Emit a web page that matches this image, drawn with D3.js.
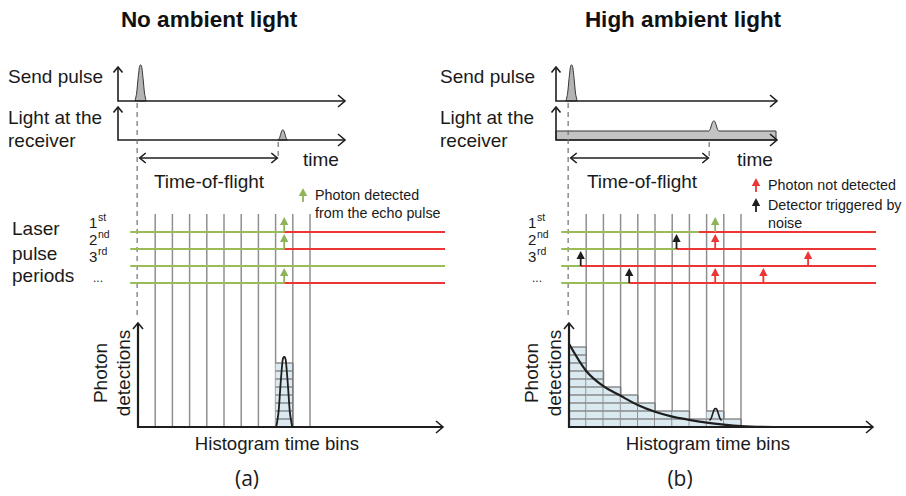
<!DOCTYPE html>
<html><head><meta charset="utf-8">
<script src="https://cdn.jsdelivr.net/npm/d3@7"></script>
<style>
body{margin:0;background:#fff}
svg{display:block}
text{font-family:"Liberation Sans",Arial,sans-serif;fill:#1a1a1a}
</style>
</head><body>
<svg id="chart" width="906" height="496"></svg>
<script>
// ---------------- data ----------------
const panelTitles = ["No ambient light", "High ambient light"];
const panelTags = ["(a)", "(b)"];
const periodLabels = [["1", "st"], ["2", "nd"], ["3", "rd"], ["...", ""]];
const histNoAmbient = [0, 0, 0, 0, 0, 0, 0, 0, 8, 0];
const histHighAmbient = [10, 7, 5, 4, 3, 2, 2, 1, 2, 1];
// time (in bins) at which each laser period stops listening (green -> red)
const greenUntilNoAmbient = [8.5, 8.5, 17.85, 8.5];
const greenUntilHighAmbient = [7.55, 6.25, 0.68, 3.5];
const arrowsNoAmbient = [
  { period: 0, t: 8.5, kind: "detected" },
  { period: 1, t: 8.5, kind: "detected" },
  { period: 3, t: 8.5, kind: "detected" }
];
const arrowsHighAmbient = [
  { period: 0, t: 8.5, kind: "detected" },
  { period: 1, t: 6.25, kind: "noise" },
  { period: 1, t: 8.5, kind: "missed" },
  { period: 2, t: 0.68, kind: "noise" },
  { period: 2, t: 13.9, kind: "missed" },
  { period: 3, t: 3.5, kind: "noise" },
  { period: 3, t: 8.5, kind: "missed" },
  { period: 3, t: 11.3, kind: "missed" }
];
// pile-up decay curve: [bin position, detections]
const decayCurve = [[0, 10.4], [1, 7.0], [2, 5.1], [3, 3.9], [4, 2.75], [5, 1.9], [6, 1.3], [7, 0.9], [8, 0.55], [9, 0.3], [10, 0.12], [11.9, 0]];
// normalised pulse profile: [offset, amplitude]
const pulseProfile = [[-1, 0], [-0.7, 0.22], [-0.45, 0.62], [-0.2, 0.95], [0, 1], [0.2, 0.95], [0.45, 0.62], [0.7, 0.22], [1, 0]];
const sendPulseTime = 0.15;
const echoTime = 8.42;
const echoHistPeak = 8.75;     // left histogram echo peak (detections)
const echoBumpBase = 0.8, echoBumpPeak = 2.3; // right histogram echo bump
const tofStart = 0.1, tofEnd = 8.1;
const legendNoAmbient = [{ kind: "detected", lines: ["Photon detected", "from the echo pulse"] }];
const legendHighAmbient = [
  { kind: "missed", lines: ["Photon not detected"] },
  { kind: "noise", lines: ["Detector triggered by", "noise"] }
];

// ---------------- styles ----------------
const GREEN = "#9bbb59", RED = "#ee3535", ARROW_GREEN = "#8fb35b", DARK = "#1e1e1e";
const kindColor = { detected: ARROW_GREEN, missed: RED, noise: DARK };

const svg = d3.select("#chart");

function chevron(g, x, y, dir, s = 5) {
  let pts;
  if (dir === "up") pts = [[x - s, y + s + 1], [x, y], [x + s, y + s + 1]];
  else if (dir === "right") pts = [[x - s - 1, y - s], [x, y], [x - s - 1, y + s]];
  else pts = [[x + s + 1, y - s], [x, y], [x + s + 1, y + s]];
  g.append("path").attr("d", d3.line()(pts)).attr("fill", "none")
    .attr("stroke", DARK).attr("stroke-width", 1.6).attr("stroke-linejoin", "miter");
}

function upArrow(g, x, yBase, len, color) {
  const tip = yBase - len;
  g.append("line").attr("x1", x).attr("x2", x).attr("y1", yBase).attr("y2", tip + 6)
    .attr("stroke", color).attr("stroke-width", 1.8);
  g.append("path").attr("d", `M${x},${tip}L${x + 4.2},${tip + 8}L${x - 4.2},${tip + 8}Z`).attr("fill", color);
}

function drawPanel(cfg) {
  const g = svg.append("g");
  const xs = d3.scaleLinear().domain([0, 10]).range([cfg.x0, cfg.x0 + 172]);
  const yH = d3.scaleLinear().domain([0, 10]).range([427, 347]);
  const yP = d3.scaleLinear().domain([0, 3]).range([232, 283]);

  // title
  g.append("text").attr("x", cfg.titleX).attr("y", 27).attr("text-anchor", "middle")
    .attr("font-size", 22.5).attr("font-weight", "bold").style("fill", "#111").text(cfg.title);

  // -------- timelines --------
  g.append("text").attr("x", cfg.labelX).attr("y", 83).attr("font-size", 19).text("Send pulse");
  g.append("text").attr("x", cfg.labelX).attr("y", 124).attr("font-size", 19).text("Light at the");
  g.append("text").attr("x", cfg.labelX).attr("y", 146.5).attr("font-size", 19).text("receiver");

  // send pulse
  const pulseArea = d3.area().curve(d3.curveCardinal.tension(0.2));
  const sp = pulseProfile.map(p => [xs(sendPulseTime) + p[0] * 5.6, 101 - p[1] * 36]);
  g.append("path").attr("d", pulseArea.x(d => d[0]).y0(101).y1(d => d[1])(sp))
    .attr("fill", "#b4b4b4").attr("stroke", "#333").attr("stroke-width", 1);

  // receiver
  if (cfg.ambient) {
    const pts = [[cfg.axisX, 131], [xs(echoTime) - 5, 131]]
      .concat(pulseProfile.slice(1, -1).map(p => [xs(echoTime) + p[0] * 5, 131 - p[1] * 10]))
      .concat([[xs(echoTime) + 5, 131], [cfg.axisEnd - 1, 131]]);
    g.append("path").attr("d", d3.area().curve(d3.curveMonotoneX).x(d => d[0]).y0(140).y1(d => d[1])(pts))
      .attr("fill", "#c3c3c3").attr("stroke", "#333").attr("stroke-width", 1);
  } else {
    const ep = pulseProfile.map(p => [xs(echoTime) + p[0] * 4.6, 140 - p[1] * 10]);
    g.append("path").attr("d", pulseArea.x(d => d[0]).y0(140).y1(d => d[1])(ep))
      .attr("fill", "#b4b4b4").attr("stroke", "#333").attr("stroke-width", 1);
  }

  // axes
  [[101, 67], [140, 107]].forEach(([base, top]) => {
    g.append("path").attr("d", `M${cfg.axisX},${top}V${base}H${cfg.axisEnd}`)
      .attr("fill", "none").attr("stroke", DARK).attr("stroke-width", 1.6);
    chevron(g, cfg.axisX, top, "up", 4.5);
    chevron(g, cfg.axisEnd, base, "right", 6);
  });
  g.append("text").attr("x", cfg.timeX).attr("y", 166).attr("font-size", 19).text("time");

  // dashed lines
  g.append("line").attr("x1", xs(-0.05)).attr("x2", xs(-0.05)).attr("y1", 103).attr("y2", 319)
    .attr("stroke", "#6f6f6f").attr("stroke-width", 1.2).attr("stroke-dasharray", "5,4");
  g.append("line").attr("x1", xs(8.15)).attr("x2", xs(8.15)).attr("y1", 142).attr("y2", 160)
    .attr("stroke", "#6f6f6f").attr("stroke-width", 1.2).attr("stroke-dasharray", "5,4");

  // time of flight
  g.append("line").attr("x1", xs(tofStart)).attr("x2", xs(tofEnd)).attr("y1", 158).attr("y2", 158)
    .attr("stroke", DARK).attr("stroke-width", 1.6);
  chevron(g, xs(tofStart), 158, "left", 5);
  chevron(g, xs(tofEnd), 158, "right", 5);
  g.append("text").attr("x", cfg.tofTextX).attr("y", 188).attr("text-anchor", "middle")
    .attr("font-size", 19).text("Time-of-flight");

  // legend
  let ly = cfg.legendY;
  cfg.legend.forEach(item => {
    upArrow(g, cfg.legendX, ly + 2, 14, kindColor[item.kind]);
    item.lines.forEach((ln, i) => {
      g.append("text").attr("x", cfg.legendX + 12).attr("y", ly + i * 18).attr("font-size", 14.3).text(ln);
    });
    ly += 20;
  });

  // -------- laser periods --------
  if (cfg.periodsTitle) {
    [["Laser", 235], ["pulse", 260], ["periods", 282]].forEach(([t, y]) =>
      g.append("text").attr("x", 12).attr("y", y).attr("font-size", 19).text(t));
  }
  periodLabels.forEach((lab, i) => {
    const base = yP(i) - 4;
    if (lab[1]) {
      g.append("text").attr("x", cfg.ordX).attr("y", base).attr("font-size", 15).text(lab[0]);
      g.append("text").attr("x", cfg.ordX + 9).attr("y", base - 7.5).attr("font-size", 10.5).text(lab[1]);
    } else {
      g.append("text").attr("x", cfg.ordX + 4).attr("y", base + 3).attr("font-size", 12).text(lab[0]);
    }
  });

  // bin lines
  g.selectAll(null).data(d3.range(1, 11)).join("line")
    .attr("x1", d => xs(d)).attr("x2", d => xs(d)).attr("y1", 214).attr("y2", 427)
    .attr("stroke", "#8f8f8f").attr("stroke-width", 1.5);

  // period lines
  cfg.greenUntil.forEach((gu, i) => {
    const y = yP(i);
    g.append("line").attr("x1", xs(-0.45)).attr("x2", xs(Math.min(gu, 17.85))).attr("y1", y).attr("y2", y)
      .attr("stroke", GREEN).attr("stroke-width", 2);
    if (gu < 17.85)
      g.append("line").attr("x1", xs(gu)).attr("x2", xs(17.85)).attr("y1", y).attr("y2", y)
        .attr("stroke", RED).attr("stroke-width", 2);
  });
  cfg.arrows.forEach(a => upArrow(g, xs(a.t), yP(a.period), 15, kindColor[a.kind]));

  // -------- histogram --------
  const counts = cfg.hist;
  counts.forEach((c, i) => {
    if (!c) return;
    g.append("rect").attr("x", xs(i)).attr("width", xs(i + 1) - xs(i)).attr("y", yH(c))
      .attr("height", yH(0) - yH(c)).attr("fill", "#dbe9f0");
    g.selectAll(null).data(d3.range(1, c + 1)).join("line")
      .attr("x1", xs(i)).attr("x2", xs(i + 1)).attr("y1", d => yH(d)).attr("y2", d => yH(d))
      .attr("stroke", "#7a7a7a").attr("stroke-width", 1.3);
    g.append("line").attr("x1", xs(i + 1)).attr("x2", xs(i + 1)).attr("y1", yH(c)).attr("y2", yH(0))
      .attr("stroke", "#7a7a7a").attr("stroke-width", 1.5);
  });

  if (cfg.ambient) {
    g.append("path").attr("d", d3.line().curve(d3.curveMonotoneX).x(d => xs(d[0])).y(d => yH(d[1]))(decayCurve))
      .attr("fill", "none").attr("stroke", DARK).attr("stroke-width", 2.2);
    const bump = pulseProfile.map(p => [xs(echoTime + 0.1) + p[0] * 6, yH(echoBumpBase + p[1] * (echoBumpPeak - echoBumpBase))]);
    g.append("path").attr("d", d3.line().curve(d3.curveCardinal.tension(0.2))(bump))
      .attr("fill", "none").attr("stroke", DARK).attr("stroke-width", 1.6);
  } else {
    const gp = pulseProfile.map(p => [xs(8.5) + p[0] * 8, yH(p[1] * echoHistPeak)]);
    g.append("path").attr("d", d3.line().curve(d3.curveCardinal.tension(0.2))(gp))
      .attr("fill", "none").attr("stroke", DARK).attr("stroke-width", 1.8);
  }

  // histogram axes
  g.append("path").attr("d", `M${xs(0)},323V${yH(0)}H${cfg.histEnd}`)
    .attr("fill", "none").attr("stroke", DARK).attr("stroke-width", 2.2);
  chevron(g, xs(0), 323, "up", 5);
  chevron(g, cfg.histEnd, yH(0), "right", 6);

  g.append("text").attr("transform", `translate(${cfg.x0 - 31},373) rotate(-90)`).attr("text-anchor", "middle")
    .attr("font-size", 19).text("Photon");
  g.append("text").attr("transform", `translate(${cfg.x0 - 8},373) rotate(-90)`).attr("text-anchor", "middle")
    .attr("font-size", 19).text("detections");
  g.append("text").attr("x", cfg.x0 + 139).attr("y", 450).attr("text-anchor", "middle")
    .attr("font-size", 18.6).text("Histogram time bins");

  g.append("text").attr("x", cfg.tagX).attr("y", 486).attr("text-anchor", "middle")
    .attr("font-size", 21).style("font-family", "'Open Sans','Noto Sans',sans-serif").text(cfg.tag);
}

drawPanel({
  title: panelTitles[0], titleX: 209, tag: panelTags[0], tagX: 247,
  x0: 138, axisX: 118, axisEnd: 345, labelX: 8, timeX: 303, tofTextX: 209,
  ambient: false, hist: histNoAmbient, greenUntil: greenUntilNoAmbient, arrows: arrowsNoAmbient,
  legend: legendNoAmbient, legendX: 303, legendY: 200, periodsTitle: true, ordX: 89, histEnd: 443
});
drawPanel({
  title: panelTitles[1], titleX: 683, tag: panelTags[1], tagX: 680,
  x0: 569, axisX: 556, axisEnd: 777, labelX: 440, timeX: 737, tofTextX: 642,
  ambient: true, hist: histHighAmbient, greenUntil: greenUntilHighAmbient, arrows: arrowsHighAmbient,
  legend: legendHighAmbient, legendX: 756, legendY: 190, periodsTitle: false, ordX: 528, histEnd: 873
});
</script>
</body></html>
